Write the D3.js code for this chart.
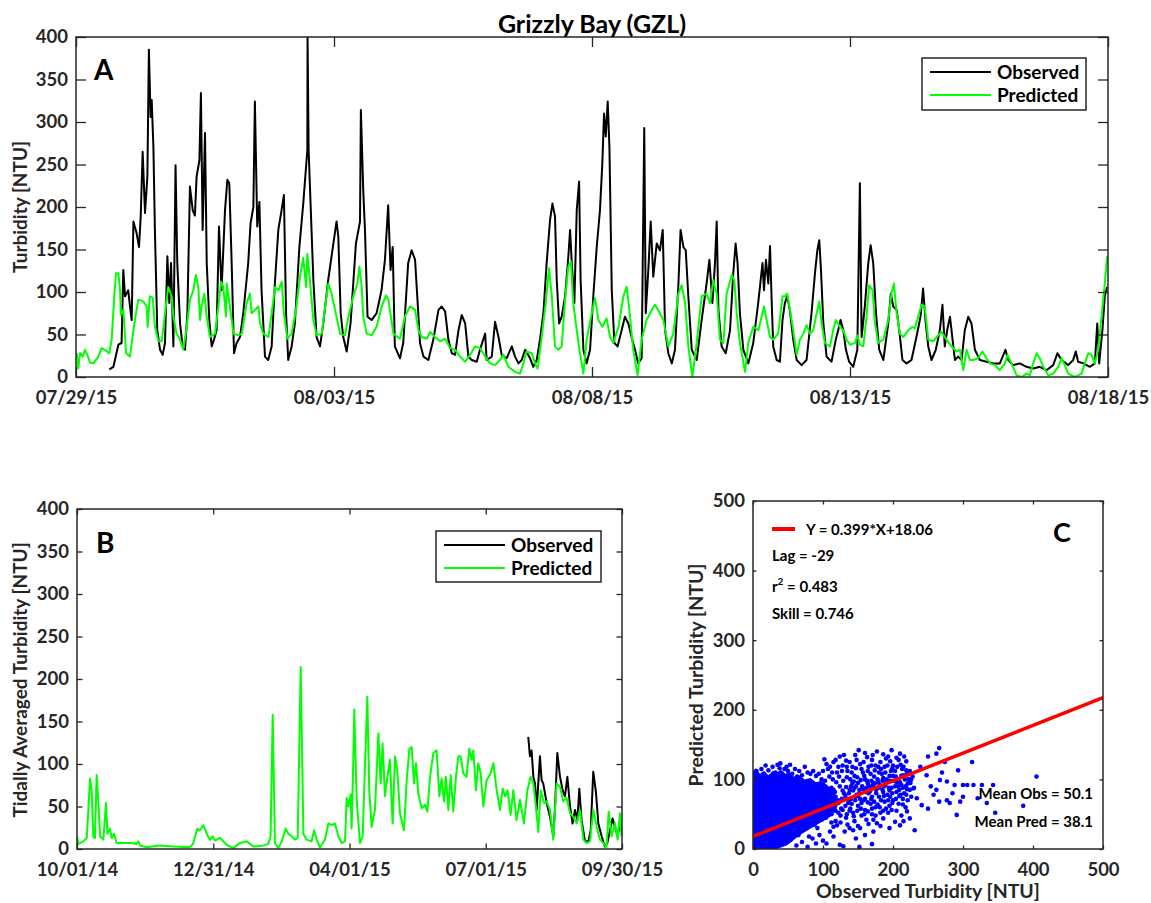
<!DOCTYPE html>
<html lang="en">
<head>
  <meta charset="UTF-8">
  <title>Grizzly Bay (GZL)</title>
  <script src="https://cdn.jsdelivr.net/npm/d3@7/dist/d3.min.js"></script>
  <style>
    body { margin: 0; background: #fff; }
    svg text { font-family: Lato, 'Open Sans', sans-serif; font-weight: bold; fill: #262626; }
    .axis path { display: none; }
    .axis line { stroke: #262626; stroke-width: 1.3px; }
    .frame { fill: none; stroke: #262626; stroke-width: 1.5px; }
    .obs { fill: none; stroke: #000; stroke-width: 2px; stroke-linejoin: round; }
    .pred { fill: none; stroke: #00ff00; stroke-width: 2px; stroke-linejoin: round; }
  </style>
</head>
<body>
<div class="chart"></div>
<script>
  // panel A: [hours since 07/29/15 00:00, NTU]
  const observedA = [
    [15.5,9],[17.4,12],[19.7,38],[21.2,40],[22.0,126],[22.8,95],[24.3,102],[25.1,83],[25.9,67],[26.7,183],[28.2,169],[29.3,153],[30.1,189],[31.0,265],[32.1,193],[33.2,236],[33.9,385],[34.7,306],[35.2,326],[36.0,271],[36.7,173],[37.8,55],[39.1,32],[40.3,26],[41.4,40],[42.5,142],[43.4,87],[44.2,134],[45.3,36],[46.3,249],[47.1,134],[48.4,63],[49.6,36],[50.7,32],[51.8,75],[53.0,224],[54.3,196],[55.3,190],[56.1,236],[57.4,255],[58.1,334],[58.9,173],[60.0,287],[60.8,134],[62.0,67],[63.1,36],[64.2,44],[65.4,55],[66.5,177],[67.7,102],[69.3,196],[70.4,232],[71.3,228],[72.4,134],[73.5,28],[74.7,40],[76.3,47],[77.8,75],[80.1,134],[81.2,181],[82.5,200],[83.2,324],[84.3,177],[85.3,206],[86.3,102],[87.9,24],[89.4,20],[91.0,36],[92.5,110],[94.1,173],[95.6,196],[96.7,214],[97.7,75],[98.7,20],[100.3,36],[101.8,63],[103.9,153],[105.7,204],[107.6,267],[107.7,400],[108.2,267],[109.1,204],[110.4,114],[111.9,47],[113.5,36],[115.0,63],[117.3,114],[119.7,157],[121.2,183],[122.0,165],[123.1,75],[124.3,47],[125.9,30],[127.7,63],[130.2,157],[132.1,183],[132.5,314],[133.6,220],[134.4,173],[135.6,71],[137.5,67],[139.8,75],[142.1,102],[143.7,138],[145.2,202],[146.3,126],[147.3,153],[148.3,36],[150.7,22],[152.2,40],[154.5,134],[156.1,149],
    [157.7,138],[159.2,75],[160.0,40],[161.6,24],[163.9,20],[166.2,44],[168.6,79],[170.1,83],[171.7,77],[173.2,44],[174.8,28],[176.3,26],[177.9,55],[179.4,73],[181.0,63],[182.5,24],[184.1,20],[186.4,18],[187.9,32],[190.3,51],[191.0,20],[193.4,24],[194.9,65],[196.5,47],[198.0,26],[200.3,22],[202.7,36],[204.2,24],[205.8,16],[207.3,20],[208.9,32],[211.2,22],[212.7,12],[214.3,20],[215.8,44],[217.4,75],[218.9,134],[220.5,185],[221.6,204],[222.8,189],[223.6,114],[224.7,63],[225.9,71],[227.5,95],[229.0,142],[229.8,173],[230.6,134],[231.8,87],[232.9,196],[234.0,230],[234.7,114],[236.0,32],[237.5,16],[239.1,32],[240.6,95],[242.2,153],[243.7,196],[244.8,251],[245.6,310],[246.4,283],[247.3,324],[248.1,271],[249.2,102],[250.4,40],[251.9,36],[253.8,55],[255.3,71],[256.9,63],[258.4,47],[260.0,32],[261.5,16],[263.1,22],[264.3,293],[265.0,75],[266.2,126],[267.3,183],[268.5,118],[270.1,157],[271.6,149],[272.9,173],[274.0,55],[275.5,28],[277.1,16],[278.6,32],[280.2,110],[281.2,173],[282.5,153],[283.6,149],[284.8,95],[286.4,32],[288.7,20],[291.0,67],[293.3,110],[294.6,138],[296.0,87],[297.2,134],[298.0,183],[298.8,79],[300.3,36],[302.2,28],[304.2,55],[305.7,122],[306.8,157],[307.7,134],[308.8,75],[310.4,32],[312.7,16],[315.0,40],[317.3,87],
    [319.3,134],[320.0,102],[320.9,138],[322.0,110],[322.8,154],[323.5,95],[324.3,36],[325.9,20],[327.4,18],[328.6,67],[329.7,87],[330.8,95],[332.0,79],[333.6,44],[335.2,20],[337.5,14],[339.8,20],[342.1,75],[343.7,122],[344.8,149],[345.7,161],[346.5,126],[347.6,63],[349.1,24],[351.4,18],[353.4,44],[354.5,55],[355.6,67],[356.9,55],[358.1,32],[359.6,18],[361.5,12],[363.4,32],[364.6,228],[365.4,47],[366.9,83],[368.5,134],[369.6,155],[370.8,134],[372.1,75],[373.6,32],[375.5,20],[377.8,63],[379.0,98],[380.1,83],[381.7,79],[382.9,55],[384.4,20],[386.3,16],[388.6,20],[390.9,47],[392.8,71],[394.0,104],[395.1,67],[396.4,36],[397.9,20],[399.9,32],[401.8,55],[403.0,85],[404.1,36],[405.2,55],[406.5,71],[407.7,44],[408.8,20],[410.3,24],[411.9,20],[413.4,55],[415.0,71],[416.5,63],[418.1,32],[420.4,20],[423.5,18],[426.6,16],[429.7,16],[432.3,32],[433.6,20],[435.9,14],[439.0,16],[442.1,12],[445.2,10],[448.3,12],[451.4,8],[454.5,14],[456.5,28],[458.4,20],[461.5,14],[463.8,20],[465.0,30],[466.1,18],[468.5,16],[471.6,12],[473.9,16],[475.0,63],[475.9,16],[477.4,55],[478.5,95],[479.6,106]
  ];
  const predictedA = [
    [0.3,28],[1.1,10],[1.9,28],[3.1,24],[4.2,32],[5.3,26],[6.5,17],[8.1,16],[10.4,24],[11.9,34],[13.9,31],[15.5,28],[16.6,44],[17.7,91],[18.6,122],[19.7,122],[20.5,102],[20.9,73],[22.0,79],[23.3,28],[25.1,24],[26.7,55],[27.9,75],[29.0,91],[31.3,89],[32.9,83],[33.3,59],[34.4,95],[35.7,93],[36.7,59],[38.3,42],[39.9,42],[41.4,75],[42.9,106],[44.5,95],[45.3,71],[46.8,51],[48.4,44],[49.9,32],[51.5,59],[53.0,91],[54.6,102],[55.7,120],[56.9,106],[57.7,67],[58.4,83],[59.7,98],[60.8,71],[62.3,47],[64.7,51],[66.2,83],[67.5,112],[68.5,106],[69.8,71],[70.1,110],[71.6,83],[73.2,51],[75.5,49],[77.1,51],[79.4,87],[80.9,98],[81.7,75],[83.3,79],[84.8,83],[85.6,63],[87.1,51],[89.5,47],[91.0,75],[92.6,106],[94.1,102],[95.7,112],[96.7,75],[98.3,45],[100.3,51],[102.3,79],[104.2,118],[105.7,140],[107.0,106],[107.6,145],[108.8,114],[110.4,67],[111.9,49],[114.3,51],[116.3,91],[117.4,110],[118.9,98],[120.5,79],[122.8,51],[125.1,49],[126.7,71],[129.0,95],[130.9,110],[131.8,130],[132.9,106],[133.6,71],[135.2,51],[137.5,49],[139.8,59],[142.2,83],[144.2,96],[145.3,91],[147.6,51],[150.7,45],[153.0,71],[155.3,83],
    [157.7,79],[159.3,55],[160.8,47],[163.1,45],[164.7,53],[167.0,47],[169.3,42],[171.7,45],[174.0,34],[176.3,32],[178.6,24],[181.0,18],[183.3,26],[185.6,36],[187.9,34],[190.3,24],[192.6,16],[194.9,14],[197.2,20],[198.8,26],[201.1,12],[204.2,6],[206.5,4],[208.1,16],[209.6,30],[212.0,28],[213.5,16],[214.7,10],[216.6,47],[218.5,87],[220.0,128],[221.3,95],[222.8,36],[224.4,32],[225.9,36],[227.5,91],[229.0,130],[230.2,136],[231.3,87],[232.9,55],[234.4,28],[236.0,4],[237.5,44],[239.9,75],[241.4,93],[243.0,67],[244.8,59],[246.8,69],[248.4,47],[249.9,40],[252.3,59],[254.6,95],[256.1,106],[257.2,83],[259.2,32],[261.2,2],[263.1,44],[265.4,67],[267.8,79],[269.3,85],[271.6,75],[273.2,67],[275.5,36],[277.8,51],[280.2,98],[281.7,108],[283.3,87],[284.8,36],[286.7,0],[288.7,40],[291.0,95],[293.3,98],[294.9,87],[296.4,114],[298.0,98],[299.5,44],[301.1,40],[302.6,98],[305.0,120],[306.2,114],[307.3,75],[308.8,40],[311.2,6],[312.7,40],[315.0,59],[317.4,55],
    [320.0,83],[321.2,67],[322.8,47],[324.3,44],[326.6,51],[328.6,95],[329.7,95],[330.8,98],[332.1,79],[333.6,55],[335.2,26],[336.7,44],[338.3,51],[339.8,61],[341.4,51],[342.9,55],[344.5,75],[345.7,89],[346.8,63],[348.3,40],[350.7,36],[352.2,55],[353.4,67],[355.3,59],[356.9,55],[358.4,44],[360.0,38],[362.3,40],[363.4,49],[364.6,38],[366.2,36],[367.7,71],[368.9,108],[370.5,102],[371.6,63],[373.1,40],[375.5,44],[377.8,67],[379.3,98],[380.4,110],[381.7,75],[383.2,51],[384.8,47],[387.1,55],[389.1,59],[390.2,57],[391.7,71],[393.3,85],[394.8,83],[396.4,44],[398.7,42],[400.3,47],[402.6,53],[404.9,44],[407.2,36],[409.6,30],[411.1,32],[412.7,8],[414.2,32],[415.8,20],[417.3,20],[419.6,22],[421.6,30],[423.5,22],[425.1,16],[427.4,14],[429.7,8],[432.0,16],[433.3,26],[435.1,16],[437.5,2],[439.8,0],[442.1,4],[443.7,2],[445.2,16],[446.8,28],[448.3,22],[449.9,12],[452.2,2],[454.5,4],[456.8,12],[458.4,22],[459.9,14],[461.5,4],[464.6,0],[467.7,4],[469.2,16],[470.8,28],[472.3,26],[473.9,16],[475.4,32],[477.0,71],[478.5,110],[479.6,142]
  ];

  // panel B: [days since 10/01/14, NTU]
  const predictedB = [
    [0,15],[0.9,6],[4.2,9],[6.5,13],[7.6,46],[8.7,83],[9.8,69],[10.9,15],[12.0,13],[13.1,87],[14.2,58],[15.4,15],[17.6,11],[19.4,54],[20.3,18],[22.0,24],[23.2,13],[24.7,18],[26.5,7],[30.9,7],[36.5,7],[39.8,6],[41.0,9],[42.1,4],[46.5,2],[55.4,4],[64.3,3],[75.5,2],[77.7,7],[80.4,24],[82.1,22],[84.4,28],[86.6,18],[88.8,11],[90.6,15],[92.2,10],[95.5,13],[100.0,5],[104.4,1],[108.9,7],[113.3,9],[117.8,3],[124.4,4],[127.8,6],[129.3,15],[130.7,158],[132.2,7],[134.5,1],[136.7,9],[139.4,24],[141.1,18],[143.4,15],[145.6,11],[147.4,13],[149.4,214],[151.2,18],[153.4,11],[156.7,9],[158.3,22],[160.1,11],
    [162.3,2],[165.6,11],[167.9,30],[170.1,28],[172.3,30],[174.5,15],[176.8,7],[179.0,9],[180.1,60],[181.2,50],[182.8,64],[183.4,24],[184.6,109],[185.2,164],[186.8,58],[189.0,7],[190.8,15],[192.4,101],[193.9,179],[195.2,69],[196.8,26],[199.0,46],[201.3,136],[202.8,77],[204.1,124],[205.7,62],[207.3,85],[209.0,105],[210.8,30],[212.4,109],[213.9,93],[215.7,42],[218.4,22],[220.2,81],[222.0,118],[223.5,120],[225.1,77],[226.4,101],[228.0,65],[230.2,48],[232.4,52],[234.0,44],[235.8,85],[238.0,113],[240.2,116],[242.0,62],[243.5,83],[245.1,56],[246.4,85],[248.0,46],[249.6,87],[251.3,44],[253.1,85],[254.7,109],[256.2,109],[258.0,89],[260.2,85],[262.0,118],[263.6,105],[264.7,116],[266.5,69],[268.0,101],[269.6,89],[271.4,50],[273.6,81],[276.3,89],[278.1,101],[280.3,69],[282.5,46],[284.3,71],[285.9,62],[287.6,69],[289.6,40],[291.4,69],[293.6,34],[295.9,58],[298.5,30],[300.8,69],[303.0,85],[304.8,77],[306.5,50],[308.1,20],[309.7,69],[311.9,54],[313.7,56],[315.9,46],[318.1,11],[320.3,77],[322.6,73],[324.8,56],[327.0,60],[329.3,42],[331.5,38],[333.7,30],[335.9,46],[338.2,11],[340.4,7],[342.6,9],[344.8,46],[347.1,26],[349.3,11],[351.5,7],[353.7,2],[355.1,44],[357.1,15],[359.3,30],[361.1,11],[362.6,42],[363.7,15]
  ];
  const observedB = [
    [301.4,132],[302.5,109],[303.6,116],[304.8,85],[305.9,77],[307.0,46],[309.2,109],[310.3,81],[311.4,77],[313.7,54],[315.9,38],[318.1,15],[319.2,46],[320.8,113],[322.6,85],[324.4,69],[325.9,62],[327.5,85],[329.3,50],[331.0,30],[332.6,46],[334.2,34],[335.5,71],[337.0,34],[339.3,9],[341.5,9],[343.1,22],[344.8,91],[346.6,67],[348.2,30],[350.4,15],[352.6,3],[354.2,7],[356.0,22],[357.7,36],[359.3,26],[361.1,15],[362.6,30],[363.7,22]
  ];

  // panel C: observed vs predicted [NTU, NTU]; the core is where the dots merge into one mass
  const scatterCore = [
    [0,0],[0,112],[4,116],[10,108],[16,112],[22,106],[28,112],[34,110],[40,114],[46,108],[52,110],[58,104],[66,106],[74,100],[82,102],[90,96],[98,98],[106,92],[112,86],[118,78],[122,66],[118,54],[110,46],[100,40],[90,34],[80,28],[70,22],[62,16],[55,10],[48,5],[40,2],[34,0]
  ];
  const scatterPts = [
    [102,129],[110,118],[115,125],[120,110],[124,133],[128,120],[130,135],[135,112],[138,125],[142,118],[145,105],[148,128],[151,142],[155,115],[158,125],[160,100],[163,132],[165,118],[168,108],[170,128],[172,95],[175,120],[177,140],[180,110],[182,125],[185,98],[188,118],[190,130],[193,133],[195,105],[198,142],[200,120],[203,112],[205,96],[208,128],[210,137],[212,105],[215,118],[216,133],[218,90],[220,109],[222,100],[225,95],[228,104],[230,88],
    [105,60],[108,75],[112,50],[115,85],[118,40],[122,70],[126,58],[130,80],[133,45],[136,66],[140,90],[143,52],[146,75],[150,62],[152,85],[155,48],[158,70],[160,56],[162,42],[165,80],[168,65],[170,50],[172,88],[175,60],[177,37],[180,75],[182,52],[185,85],[186,44],[188,68],[190,58],[192,78],[195,62],[196,75],[198,88],[200,70],[203,39],[205,82],[208,65],[210,34],[212,92],[214,72],[216,80],[218,60],[220,86],[224,44],[226,75],[229,87],[231,27],
    [62,5],[70,10],[78,3],[85,15],[90,8],[95,20],[100,12],[105,8],[110,25],[115,18],[120,34],[124,6],[129,4],[131,25],[138,30],[143,27],[147,15],[152,3],[153,30],[160,20],[170,7],[172,25],
    [234,73],[239,118],[241,63],[248,106],[250,58],[250,133],[254,90],[258,78],[262,137],[262,85],[266,145],[266,68],[267,99],[270,110],[274,125],[277,97],[277,70],[281,66],[285,80],[288,92],[291,49],[293,113],[296,68],[300,75],[300,92],[306,92],[313,125],[315,92],[321,73],[327,92],[334,66],[343,92],[346,52],[386,62],[405,104],
    [2,106],[5,112],[8,100],[12,115],[15,108],[18,120],[22,113],[25,104],[28,118],[32,110],[35,121],[38,116],[39,123],[42,108],[45,115],[48,118],[50,112],[53,121],[56,108],[60,115],[63,104],[66,112],[70,106],[74,118],[78,110],[82,108],[86,112],[90,105],[94,108],[98,100],
    [65,20],[72,28],[80,18],[88,35],[92,30],[98,42],[104,45],[112,38],[118,55],[125,48],[132,62],[138,55],
    [138,85],[140,72],[142,95],[145,88],[148,78],[150,95],[153,72],[156,90],[160,82],[163,98],[166,90],[170,75],[173,104],[176,85],[178,100],[181,92],[184,108],[187,90],[191,100],[194,88],[197,112],[201,98],[204,104],[207,90],[211,78],[213,115],[217,100],
    [105,122],[118,128],[133,127],[146,135],[160,138],[171,135],[186,136],[196,126],[205,131],[219,126],
    [100,112],[107,115],[113,110],[122,118],[127,112],[134,118],[141,110],[147,116],[153,122],[157,110],[164,112],[169,120],[174,113],[179,118],[183,115],[189,110],[192,120],[199,116],[206,118],[211,121],[219,113],[224,112],
    [103,98],[109,104],[114,100],[119,96],[123,104],[129,98],[134,103],[139,100],[144,97],[149,103],[154,99],[159,105],[164,94],[169,98],[174,94],[179,96],[186,102],[190,95],[196,98],[200,105],[206,101],[210,96],[215,106],[221,94],[226,100],
    [112,88],[117,82],[124,90],[128,84],[133,89],[137,80],[143,84],[147,90],[152,80],[157,86],[162,88],[167,83],[171,92],[176,80],[180,88],[186,82],[189,92],[195,84],[199,80],[203,90],[209,85],[214,88],[219,78],[224,85],
    [118,75],[122,66],[127,72],[132,76],[137,70],[141,65],[146,70],[150,76],[155,66],[160,72],[164,67],[169,72],[173,68],[178,64],[183,70],[187,76],[193,70],[199,66],[204,72],[209,76],[214,64],[221,70],
    [122,52],[128,56],[134,50],[139,58],[144,47],[149,55],[154,58],[159,50],[164,54],[170,58],[175,48],[181,60],[186,55],[193,52],[198,56],[205,55],[212,48],[220,54],
    [115,32],[125,38],[135,35],[145,40],[150,33],[165,36],[172,42],[182,33],[195,30],[215,40]
  ];
  const fitSlope = 0.399, fitIntercept = 18.06;
  const statLines = ['Lag = -29', 'r2', 'Skill = 0.746'];

  const ticksA = ['2015-07-29','2015-08-03','2015-08-08','2015-08-13','2015-08-18'];
  const ticksB = ['2014-10-01','2014-12-31','2015-04-01','2015-07-01','2015-09-30'];
  const ticksNTU = [0,50,100,150,200,250,300,350,400];
  const ticksC = [0,100,200,300,400,500];

  const parseDay = d3.utcParse('%Y-%m-%d');
  const fmt = d3.utcFormat('%m/%d/%y');
  const startA = parseDay('2015-07-29'), startB = parseDay('2014-10-01');
  const hourToDate = h => new Date(+startA + h * 3600e3);
  const dayToDate = d => new Date(+startB + d * 86400e3);

  const svg = d3.select('.chart').append('svg').attr('width', 1151).attr('height', 903);

  // boxed axes: inward ticks on all four sides, labels on left and bottom
  function frame(g, x, y, w, h, tick, xTicks, yTicks, xFmt) {
    g.append('g').attr('class', 'axis').attr('transform', `translate(0,${h})`)
      .call(d3.axisBottom(x).tickValues(xTicks).tickFormat(xFmt).tickSizeInner(-tick).tickSizeOuter(0).tickPadding(14))
      .selectAll('text').style('font-size', '18.5px').attr('fill', '#262626');
    g.append('g').attr('class', 'axis')
      .call(d3.axisTop(x).tickValues(xTicks).tickFormat('').tickSizeInner(-tick).tickSizeOuter(0));
    g.append('g').attr('class', 'axis')
      .call(d3.axisLeft(y).tickValues(yTicks).tickSizeInner(-tick).tickSizeOuter(0).tickPadding(8))
      .selectAll('text').style('font-size', '18.5px').attr('fill', '#262626');
    g.append('g').attr('class', 'axis').attr('transform', `translate(${w},0)`)
      .call(d3.axisRight(y).tickValues(yTicks).tickFormat('').tickSizeInner(-tick).tickSizeOuter(0));
    g.append('rect').attr('class', 'frame').attr('width', w).attr('height', h);
  }

  function legend(g, x, y, w, h) {
    const lg = g.append('g').attr('transform', `translate(${x},${y})`);
    lg.append('rect').attr('width', w).attr('height', h).attr('fill', '#fff').attr('stroke', '#262626').attr('stroke-width', 1.5);
    [['Observed', '#000'], ['Predicted', '#00ff00']].forEach((s, i) => {
      const cy = 14 + i * 23;
      lg.append('line').attr('x1', 8).attr('x2', 69).attr('y1', cy).attr('y2', cy).attr('stroke', s[1]).attr('stroke-width', 1.8);
      lg.append('text').attr('x', 75).attr('y', cy + 7).style('font-size', '19px').style('fill', '#000').text(s[0]);
    });
  }

  // ---------- panel A ----------
  const A = { l: 76, t: 37, w: 1032, h: 340 };
  const gA = svg.append('g').attr('transform', `translate(${A.l},${A.t})`);
  const xA = d3.scaleUtc().domain([startA, parseDay('2015-08-18')]).range([0, A.w]);
  const yA = d3.scaleLinear().domain([0, 400]).range([A.h, 0]);
  svg.append('clipPath').attr('id', 'clipA').append('rect').attr('width', A.w).attr('height', A.h);
  const lineA = d3.line().x(d => xA(hourToDate(d[0]))).y(d => yA(d[1]));
  gA.append('path').datum(observedA).attr('class', 'obs').attr('clip-path', 'url(#clipA)').attr('d', lineA);
  gA.append('path').datum(predictedA).attr('class', 'pred').attr('clip-path', 'url(#clipA)').attr('d', lineA);
  frame(gA, xA, yA, A.w, A.h, 10, ticksA.map(parseDay), ticksNTU, fmt);
  legend(gA, 846, 21, 164, 52);
  gA.append('text').attr('x', 18).attr('y', 43).style('font-size', '28px').style('fill', '#000').text('A');
  svg.append('text').attr('x', 592).attr('y', 33).attr('text-anchor', 'middle').style('font-size', '25px').style('fill', '#000').text('Grizzly Bay (GZL)');
  svg.append('text').attr('transform', 'translate(27,207) rotate(-90)').attr('text-anchor', 'middle').style('font-size', '19px').text('Turbidity [NTU]');

  // ---------- panel B ----------
  const B = { l: 77, t: 509, w: 545, h: 340 };
  const gB = svg.append('g').attr('transform', `translate(${B.l},${B.t})`);
  const xB = d3.scaleUtc().domain([startB, parseDay('2015-09-30')]).range([0, B.w]);
  const yB = d3.scaleLinear().domain([0, 400]).range([B.h, 0]);
  svg.append('clipPath').attr('id', 'clipB').append('rect').attr('width', B.w).attr('height', B.h);
  const lineB = d3.line().x(d => xB(dayToDate(d[0]))).y(d => yB(d[1]));
  gB.append('path').datum(observedB).attr('class', 'obs').attr('clip-path', 'url(#clipB)').attr('d', lineB);
  gB.append('path').datum(predictedB).attr('class', 'pred').attr('clip-path', 'url(#clipB)').attr('d', lineB);
  frame(gB, xB, yB, B.w, B.h, 5.5, ticksB.map(parseDay), ticksNTU, fmt);
  legend(gB, 359, 22, 165, 51);
  gB.append('text').attr('x', 19).attr('y', 44).style('font-size', '28px').style('fill', '#000').text('B');
  svg.append('text').attr('transform', 'translate(27,680) rotate(-90)').attr('text-anchor', 'middle').style('font-size', '19px').text('Tidally Averaged Turbidity [NTU]');

  // ---------- panel C ----------
  const C = { l: 753, t: 501, w: 350, h: 348 };
  const gC = svg.append('g').attr('transform', `translate(${C.l},${C.t})`);
  const xC = d3.scaleLinear().domain([0, 500]).range([0, C.w]);
  const yC = d3.scaleLinear().domain([0, 500]).range([C.h, 0]);
  svg.append('clipPath').attr('id', 'clipC').append('rect').attr('width', C.w).attr('height', C.h);
  const dots = gC.append('g').attr('clip-path', 'url(#clipC)');
  dots.append('path').datum(scatterCore).attr('fill', '#0000ff')
    .attr('d', d3.line().x(d => xC(d[0])).y(d => yC(d[1])).curve(d3.curveLinearClosed));
  dots.selectAll('circle').data(scatterPts).enter().append('circle')
    .attr('cx', d => xC(d[0])).attr('cy', d => yC(d[1])).attr('r', 2.3).attr('fill', '#0000ff');
  const fitX = xC.domain();
  gC.append('line').attr('x1', xC(fitX[0])).attr('y1', yC(fitSlope * fitX[0] + fitIntercept))
    .attr('x2', xC(fitX[1])).attr('y2', yC(fitSlope * fitX[1] + fitIntercept))
    .attr('stroke', '#ff0000').attr('stroke-width', 3.5).attr('clip-path', 'url(#clipC)');
  frame(gC, xC, yC, C.w, C.h, 3.5, ticksC, ticksC, d3.format('d'));

  gC.append('line').attr('x1', 19).attr('x2', 42).attr('y1', 28).attr('y2', 28).attr('stroke', '#ff0000').attr('stroke-width', 4);
  gC.append('text').attr('x', 53).attr('y', 34).style('font-size', '15px').style('fill', '#000')
    .text(`Y = ${fitSlope}*X+${fitIntercept}`);
  gC.append('text').attr('x', 19).attr('y', 60).style('font-size', '15px').style('fill', '#000').text(statLines[0]);
  const r2 = gC.append('text').attr('x', 19).attr('y', 91).style('font-size', '15px').style('fill', '#000');
  r2.append('tspan').text('r');
  r2.append('tspan').attr('dy', -7).style('font-size', '10px').text('2');
  r2.append('tspan').attr('dy', 7).text(' = 0.483');
  gC.append('text').attr('x', 19).attr('y', 118).style('font-size', '15px').style('fill', '#000').text(statLines[2]);
  gC.append('text').attr('x', 340).attr('y', 298).attr('text-anchor', 'end').style('font-size', '15px').style('fill', '#000').text('Mean Obs = 50.1');
  gC.append('text').attr('x', 340).attr('y', 326).attr('text-anchor', 'end').style('font-size', '15px').style('fill', '#000').text('Mean Pred = 38.1');
  gC.append('text').attr('x', 300).attr('y', 41).style('font-size', '27px').style('fill', '#000').text('C');
  svg.append('text').attr('transform', 'translate(703,675) rotate(-90)').attr('text-anchor', 'middle').style('font-size', '19.5px').text('Predicted Turbidity [NTU]');
  svg.append('text').attr('x', 928).attr('y', 898).attr('text-anchor', 'middle').style('font-size', '19.5px').text('Observed Turbidity [NTU]');
</script>
</body>
</html>
